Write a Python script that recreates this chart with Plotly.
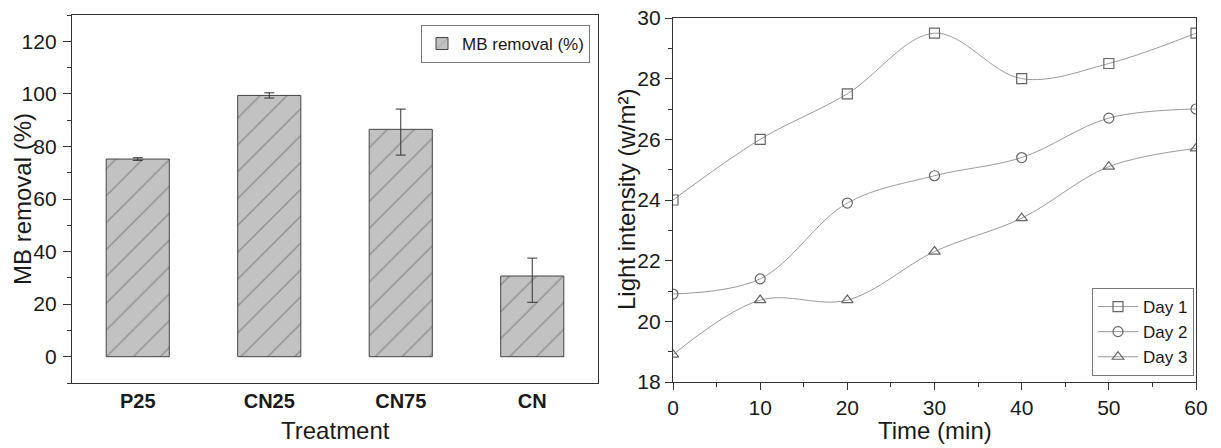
import plotly.graph_objects as go

# ---- data ----
treatments = ["P25", "CN25", "CN75", "CN"]
mb_removal = [75.2, 99.4, 86.5, 30.7]
mb_err_plus = [0.5, 1.0, 7.7, 6.8]
mb_err_minus = [0.5, 1.0, 9.8, 10.0]

time_min = [0, 10, 20, 30, 40, 50, 60]
day1 = [24.0, 26.0, 27.5, 29.5, 28.0, 28.5, 29.5]
day2 = [20.9, 21.4, 23.9, 24.8, 25.4, 26.7, 27.0]
day3 = [18.9, 20.7, 20.7, 22.3, 23.4, 25.1, 25.7]

W, H = 1221, 448
FONT = "Liberation Sans, Arial, sans-serif"
AX = "#333333"
TXT = "#1a1a1a"

fig = go.Figure()

fig.add_trace(go.Bar(
    x=treatments, y=mb_removal, width=0.48,
    name="MB removal (%)",
    marker=dict(color="#c2c2c2", line=dict(color="#444444", width=1),
                pattern=dict(shape="/", fgcolor="#555555", size=19,
                             solidity=0.07, fillmode="overlay")),
    error_y=dict(type="data", symmetric=False, array=mb_err_plus,
                 arrayminus=mb_err_minus, color="#333333",
                 thickness=1, width=5),
    xaxis="x", yaxis="y", legend="legend",
))

line_col = "#9a9a9a"
mark_col = "#666666"
for name, vals, sym in [("Day 1", day1, "square-open"),
                        ("Day 2", day2, "circle-open"),
                        ("Day 3", day3, "triangle-up-open")]:
    fig.add_trace(go.Scatter(
        x=time_min, y=vals, name=name, mode="lines+markers",
        line=dict(color=line_col, width=1, shape="spline", smoothing=1.0),
        marker=dict(symbol=sym, size=10, color=mark_col,
                    line=dict(color=mark_col, width=1.2)),
        xaxis="x2", yaxis="y2", legend="legend2",
    ))

tick_font = dict(family=FONT, size=21, color=TXT)
common = dict(showline=True, linecolor=AX, linewidth=1.3, mirror=True,
              showgrid=False, zeroline=False, automargin=False,
              tickfont=tick_font, tickcolor=AX)


def title(text, x, y, angle=0):
    return dict(text=text, x=x / W, y=1 - y / H, xref="paper", yref="paper",
                xanchor="center", yanchor="middle", showarrow=False,
                textangle=angle, font=dict(family=FONT, size=24, color=TXT))


fig.update_layout(
    width=W, height=H,
    margin=dict(l=0, r=0, t=0, b=0),
    paper_bgcolor="white", plot_bgcolor="white",
    font=dict(family=FONT, color=TXT),
    showlegend=True,
    xaxis=dict(domain=[72 / W, 598 / W], range=[-0.5, 3.5], ticks="",
               tickfont=dict(family=FONT, size=20, color=TXT, weight="bold"),
               **{k: v for k, v in common.items() if k != "tickfont"}),
    yaxis=dict(domain=[1 - 383 / H, 1 - 15 / H], range=[-10, 130],
               tickvals=[0, 20, 40, 60, 80, 100, 120], ticks="outside",
               ticklen=8, tickwidth=1.2, ticklabelstandoff=2,
               minor=dict(dtick=10, tick0=0, ticks="outside", ticklen=4,
                          tickcolor=AX, tickwidth=1),
               **common),
    xaxis2=dict(domain=[673 / W, 1196 / W], range=[0, 60], anchor="y2",
                tickvals=[0, 10, 20, 30, 40, 50, 60], ticks="outside",
                ticklen=7, tickwidth=1.2,
                minor=dict(dtick=5, tick0=0, ticks="outside", ticklen=4,
                           tickcolor=AX, tickwidth=1),
                **common),
    yaxis2=dict(domain=[1 - 382 / H, 1 - 18 / H], range=[18, 30], anchor="x2",
                tickvals=[18, 20, 22, 24, 26, 28, 30], ticks="outside",
                ticklen=7, tickwidth=1.2,
                minor=dict(dtick=1, tick0=18, ticks="outside", ticklen=4,
                           tickcolor=AX, tickwidth=1),
                **common),
    legend=dict(x=590 / W, y=1 - 25 / H, xanchor="right", yanchor="top",
                bgcolor="white", bordercolor="#777777", borderwidth=1,
                font=dict(family=FONT, size=17, color=TXT)),
    legend2=dict(x=1194 / W, y=1 - 376 / H, xanchor="right", yanchor="bottom",
                 bgcolor="white", bordercolor="#777777", borderwidth=1,
                 itemwidth=40, tracegroupgap=0,
                 font=dict(family=FONT, size=17, color=TXT)),
    annotations=[
        title("Treatment", 335, 430),
        title("MB removal (%)", 22, 199, -90),
        title("Time (min)", 935, 430),
        title("Light intensity (w/m²)", 626, 200, -90),
    ],
)

fig.write_html("out.html")
